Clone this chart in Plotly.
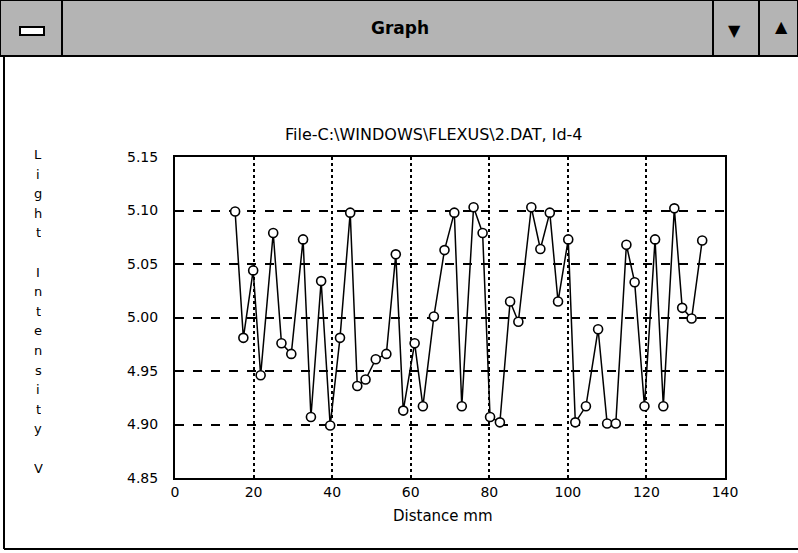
import plotly.graph_objects as go

# ---- data ----
distance_mm = [15.3, 17.4, 19.9, 21.8, 25.0, 27.1, 29.6, 32.6, 34.6, 37.2,
               39.5, 42.0, 44.6, 46.4, 48.5, 51.1, 53.8, 56.2, 58.1, 61.0,
               63.1, 65.9, 68.6, 71.1, 73.0, 76.0, 78.3, 80.2, 82.7, 85.3,
               87.4, 90.7, 93.0, 95.4, 97.5, 100.1, 101.9, 104.6, 107.7, 110.0,
               112.2, 114.9, 117.0, 119.5, 122.2, 124.3, 127.1, 129.1, 131.5, 134.2]
light_v = [5.099, 4.981, 5.044, 4.946, 5.079, 4.976, 4.966, 5.073, 4.907, 5.034,
           4.899, 4.981, 5.098, 4.936, 4.942, 4.961, 4.966, 5.059, 4.913, 4.976,
           4.917, 5.001, 5.063, 5.098, 4.917, 5.103, 5.079, 4.907, 4.902, 5.015,
           4.996, 5.103, 5.064, 5.098, 5.015, 5.073, 4.902, 4.917, 4.989, 4.901,
           4.901, 5.068, 5.033, 4.917, 5.073, 4.917, 5.102, 5.009, 4.999, 5.072]
x_ticks = [0, 20, 40, 60, 80, 100, 120, 140]
y_ticks = [4.85, 4.90, 4.95, 5.00, 5.05, 5.10, 5.15]
y_tick_labels = ["4.85", "4.90", "4.95", "5.00", "5.05", "5.10", "5.15"]
chart_title = "File-C:\\WINDOWS\\FLEXUS\\2.DAT, Id-4"
x_title = "Distance mm"
y_title = "Light Intensity V"
window_title = "Graph"

# ---- layout geometry (pixels) ----
W, H = 798, 553
L, R, T, B = 175, 725, 157, 478
FONT = "DejaVu Sans"


def px(xp):
    return (xp - L) / (R - L)


def py(yp):
    return (B - yp) / (B - T)


fig = go.Figure()
fig.add_trace(go.Scatter(
    x=distance_mm, y=light_v, mode="lines+markers",
    line=dict(color="black", width=1.5),
    marker=dict(symbol="circle", size=9, color="white",
                line=dict(color="black", width=1.6)),
    showlegend=False, hoverinfo="x+y"))

shapes = []
# window title bar
shapes.append(dict(type="rect", xref="paper", yref="paper",
                   x0=px(0), x1=px(W), y0=py(56), y1=py(0),
                   fillcolor="#b4b4b4", line=dict(color="black", width=2), layer="below"))
# left system button
shapes.append(dict(type="line", xref="paper", yref="paper",
                   x0=px(62), x1=px(62), y0=py(56), y1=py(0),
                   line=dict(color="black", width=2)))
shapes.append(dict(type="rect", xref="paper", yref="paper",
                   x0=px(20), x1=px(44), y0=py(35), y1=py(27),
                   fillcolor="white", line=dict(color="black", width=2)))
# right buttons
for xb in (713, 759):
    shapes.append(dict(type="line", xref="paper", yref="paper",
                       x0=px(xb), x1=px(xb), y0=py(56), y1=py(0),
                       line=dict(color="black", width=2)))
# window borders
shapes.append(dict(type="line", xref="paper", yref="paper",
                   x0=px(4), x1=px(4), y0=py(549), y1=py(56),
                   line=dict(color="black", width=2)))
shapes.append(dict(type="line", xref="paper", yref="paper",
                   x0=px(4), x1=px(W), y0=py(549), y1=py(549),
                   line=dict(color="black", width=2)))


def note(text, xp, yp, size, **kw):
    d = dict(text=text, xref="paper", yref="paper", x=px(xp), y=py(yp),
             xanchor="center", yanchor="middle", showarrow=False,
             font=dict(family=FONT, size=size, color="black"))
    d.update(kw)
    return d


annotations = [
    note("<b>" + window_title + "</b>", 400, 28, 17),
    note("▼", 734, 30, 16),
    note("▲", 781, 27, 16),
    note(chart_title, 434, 134, 16),
    note(x_title, 443, 516, 15),
]
# vertical stacked y title
for i, ch in enumerate(y_title):
    if ch == " ":
        continue
    annotations.append(note(ch, 38, 154 + i * 19.6, 13, height=16))

fig.update_layout(
    width=W, height=H,
    margin=dict(l=L, r=W - R, t=T, b=H - B, autoexpand=False),
    paper_bgcolor="white", plot_bgcolor="white",
    font=dict(family=FONT, size=13, color="black"),
    shapes=shapes, annotations=annotations,
    xaxis=dict(range=[0, 140], tickvals=x_ticks, ticktext=[str(v) for v in x_ticks],
               showgrid=True, gridcolor="black", gridwidth=2, griddash="dot",
               showline=True, linecolor="black", linewidth=2, mirror=True,
               ticks="", zeroline=False, ticklabelstandoff=0,
               tickfont=dict(family=FONT, size=14)),
    yaxis=dict(range=[4.85, 5.15], tickvals=y_ticks, ticktext=y_tick_labels,
               showgrid=True, gridcolor="black", gridwidth=1.6, griddash="dash",
               showline=True, linecolor="black", linewidth=2, mirror=True,
               ticks="", zeroline=False, ticklabelstandoff=12,
               tickfont=dict(family=FONT, size=14)),
)

fig.write_html(
    "out.html",
    config={"displayModeBar": False},
    post_script="document.body.style.margin='0';document.body.style.padding='0';"
                "document.body.style.overflow='hidden';",
)
